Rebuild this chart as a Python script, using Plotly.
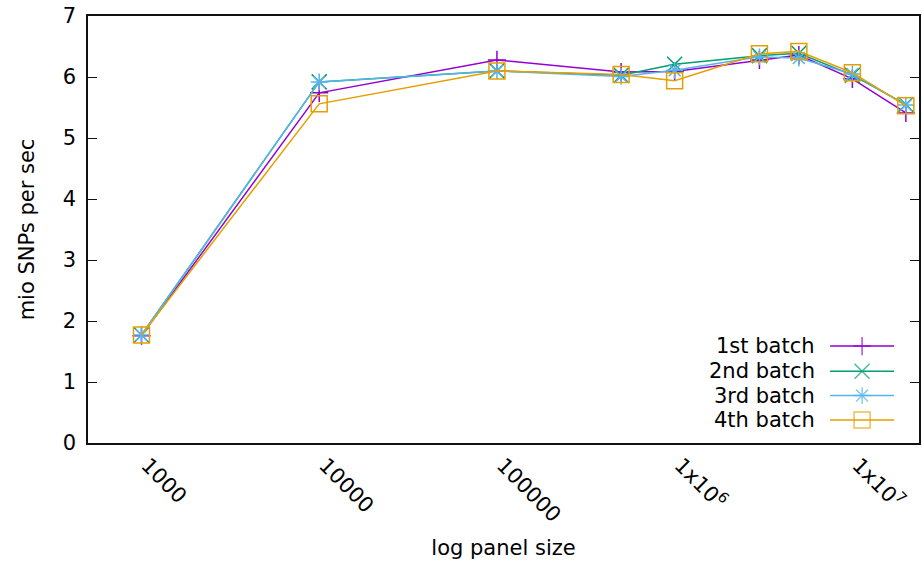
import plotly.graph_objects as go
import math

# ---- data ----
panel_size = [1e3, 1e4, 1e5, 5e5, 1e6, 3e6, 5e6, 1e7, 2e7]
batch1 = [1.76, 5.74, 6.28, 6.08, 6.09, 6.28, 6.36, 5.97, 5.41]
batch2 = [1.77, 5.92, 6.10, 6.03, 6.21, 6.35, 6.39, 6.03, 5.55]
batch3 = [1.77, 5.92, 6.10, 6.01, 6.11, 6.33, 6.31, 6.05, 5.54]
batch4 = [1.77, 5.56, 6.10, 6.04, 5.94, 6.38, 6.42, 6.07, 5.53]
series_names = ["1st batch", "2nd batch", "3rd batch", "4th batch"]
x_tick_vals = [1e3, 1e4, 1e5, 1e6, 1e7]
x_tick_text = ["1000", "10000", "100000", "1x10<sup>6</sup>", "1x10<sup>7</sup>"]
y_tick_vals = [0, 1, 2, 3, 4, 5, 6, 7]

# ---- styles ----
colors = ["#9400d3", "#009e73", "#56b4e9", "#e69f00"]
symbols = ["cross-thin", "x-thin", "asterisk", "square-open"]
sizes = [13, 15, 14, 16]
FONT = "DejaVu Sans"
FS = 21

fig = go.Figure()
for name, ys, c, s, sz in zip(series_names, [batch1, batch2, batch3, batch4], colors, symbols, sizes):
    fig.add_trace(go.Scatter(
        x=panel_size, y=ys, name=name, mode="lines+markers",
        line=dict(color=c, width=1.5),
        marker=dict(symbol=s, size=sz, color=c, line=dict(color=c, width=1.5)),
        showlegend=False,
    ))

# ---- manual gnuplot-style legend (text left of sample) on an overlay axis ----
leg_rows = [0.227, 0.168, 0.111, 0.054]
x_text_right = 0.877
x_line0, x_line1 = 0.893, 0.970
for name, yr, c, s, sz in zip(series_names, leg_rows, colors, symbols, sizes):
    xm = (x_line0 + x_line1) / 2
    fig.add_trace(go.Scatter(
        x=[x_line0, xm, x_line1], y=[yr, yr, yr], xaxis="x2", yaxis="y2",
        mode="lines+markers", line=dict(color=c, width=1.5),
        marker=dict(symbol=s, size=[0, sz, 0], color=c, line=dict(color=c, width=1.5)),
        showlegend=False, hoverinfo="skip",
    ))
    fig.add_annotation(x=x_text_right, y=yr, xref="x2", yref="y2", text=name,
                       showarrow=False, xanchor="right", yanchor="middle",
                       font=dict(family=FONT, size=FS, color="black"))

fig.update_layout(
    width=922, height=561,
    margin=dict(l=88, r=3, t=16, b=118, autoexpand=False),
    paper_bgcolor="white", plot_bgcolor="white",
    font=dict(family=FONT, size=FS, color="black"),
    xaxis=dict(
        type="log", range=[math.log10(500), 7.375], automargin=False,
        tickvals=x_tick_vals, ticktext=x_tick_text, tickangle=45,
        ticks="", showgrid=False, zeroline=False, ticklabelshift=6,
        showline=True, linecolor="#111", linewidth=1.5, mirror=True,
        title=dict(text="log panel size", standoff=14,
                   font=dict(family=FONT, size=FS, color="black")),
        tickfont=dict(family=FONT, size=FS, color="black"),
    ),
    yaxis=dict(
        range=[0, 7], tickvals=y_tick_vals, automargin=False,
        ticks="inside", ticklen=9, tickwidth=1.2, tickcolor="#111",
        showgrid=False, zeroline=False,
        showline=True, linecolor="#111", linewidth=1.5, mirror="allticks",
        title=dict(text="mio SNPs per sec", standoff=22,
                   font=dict(family=FONT, size=FS, color="black")),
        ticklabelstandoff=6,
        tickfont=dict(family=FONT, size=FS, color="black"),
    ),
    xaxis2=dict(overlaying="x", range=[0, 1], visible=False, anchor="y2"),
    yaxis2=dict(overlaying="y", range=[0, 1], visible=False, anchor="x2"),
)

fig.write_html(
    "out.html",
    config={"displayModeBar": False},
    post_script="document.body.style.margin='0';document.body.style.overflow='hidden';",
)
